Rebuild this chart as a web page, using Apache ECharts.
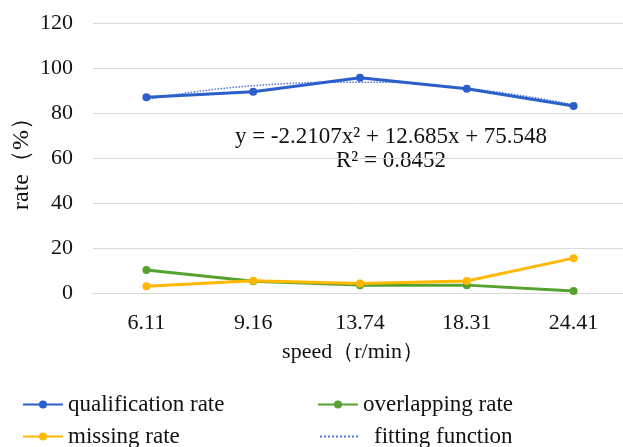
<!DOCTYPE html>
<html>
<head>
<meta charset="utf-8">
<script src="https://cdn.jsdelivr.net/npm/echarts@6/dist/echarts.min.js"></script>
<style>html,body{margin:0;padding:0;background:#fff;}#main{width:623px;height:447px;}</style>
</head>
<body>
<div id="main"></div>
<script>
const categories = ['6.11', '9.16', '13.74', '18.31', '24.41'];
const qualificationRate = [87.0, 89.4, 95.7, 90.8, 83.1];
const overlappingRate = [10.2, 5.2, 3.5, 3.5, 0.9];
const missingRate = [3.0, 5.4, 4.2, 5.3, 15.5];
const fittingFunction = [86.0, 92.1, 93.7, 90.9, 83.7];
const yTicks = [0, 20, 40, 60, 80, 100, 120];
const equationText = 'y = -2.2107x² + 12.685x + 75.548';
const r2Text = 'R² = 0.8452';

const FONT = 'Liberation Serif';
const BLUE = '#2B5FCB', GREEN = '#55A22F', YELLOW = '#FFB800', FIT = '#4A78D4';
const chart = echarts.init(document.getElementById('main'));
const legendText = {fontFamily: FONT, fontSize: 23, color: '#111'};
function legend(name, left, top, extra) {
  return Object.assign({data: [name], left: left, top: top, itemWidth: 40, itemHeight: 10,
    itemGap: 0, textStyle: legendText, padding: 0}, extra || {});
}
chart.setOption({
  animation: false,
  grid: {left: 93, right: -4, top: 23, bottom: 154, containLabel: false, outerBoundsMode: 'none'},
  xAxis: {
    type: 'category', data: categories, boundaryGap: true,
    axisLine: {show: true, lineStyle: {color: '#d9d9d9', width: 1}},
    axisTick: {show: false},
    axisLabel: {fontFamily: FONT, fontSize: 22, color: '#111', margin: 19},
    name: 'speed（r/min）', nameLocation: 'middle', nameGap: 48, nameMoveOverlap: false,
    nameTextStyle: {fontFamily: FONT, fontSize: 22, color: '#111', padding: [0, 14, 0, 0]}
  },
  yAxis: {
    type: 'value', min: yTicks[0], max: yTicks[yTicks.length - 1], interval: 20,
    axisLine: {show: false}, axisTick: {show: false},
    splitLine: {lineStyle: {color: '#d9d9d9', width: 1}},
    axisLabel: {fontFamily: FONT, fontSize: 22, color: '#111', margin: 20},
    name: 'rate（%）', nameLocation: 'middle', nameGap: 59, nameMoveOverlap: false,
    nameTextStyle: {fontFamily: FONT, fontSize: 24, color: '#111'}
  },
  legend: [
    legend('qualification rate', 22, 393),
    legend('overlapping rate', 317, 393),
    legend('missing rate', 22, 425),
    legend('fitting function', 319, 425, {itemWidth: 38, itemStyle: {opacity: 0}, textStyle: Object.assign({}, legendText, {padding: [0, 0, 0, 11]})})
  ],
  graphic: [
    {type: 'text', x: 391, y: 137, style: {text: equationText, fontFamily: FONT, fontSize: 23, fill: '#111', align: 'center', verticalAlign: 'middle'}},
    {type: 'text', x: 391, y: 161, style: {text: r2Text, fontFamily: FONT, fontSize: 23, fill: '#111', align: 'center', verticalAlign: 'middle'}}
  ],
  series: [
    {name: 'fitting function', type: 'line', data: fittingFunction, smooth: true, showSymbol: false, symbol: 'none',
      lineStyle: {color: FIT, width: 1.5, type: 'dotted'}, itemStyle: {color: FIT}, z: 3},
    {name: 'qualification rate', type: 'line', data: qualificationRate, symbol: 'circle', symbolSize: 8,
      lineStyle: {color: BLUE, width: 3}, itemStyle: {color: BLUE}, z: 4},
    {name: 'overlapping rate', type: 'line', data: overlappingRate, symbol: 'circle', symbolSize: 8,
      lineStyle: {color: GREEN, width: 3}, itemStyle: {color: GREEN}},
    {name: 'missing rate', type: 'line', data: missingRate, symbol: 'circle', symbolSize: 8,
      lineStyle: {color: YELLOW, width: 3}, itemStyle: {color: YELLOW}}
  ]
});
</script>
</body>
</html>
